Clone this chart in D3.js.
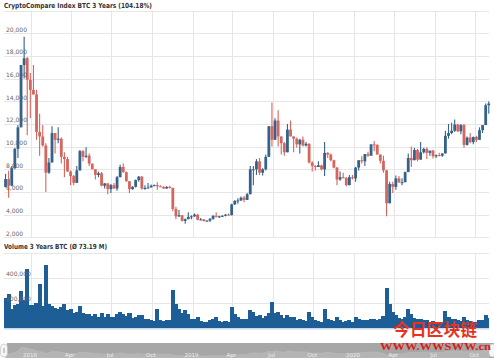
<!DOCTYPE html>
<html><head><meta charset="utf-8">
<script src="https://cdn.jsdelivr.net/npm/d3@7/dist/d3.min.js"></script>
<style>html,body{margin:0;padding:0;background:#fff}svg{display:block}</style>
</head><body><svg id="c" width="494" height="358"></svg>
<script>
// Weekly candles, week starting dates from 2017-11-01
const startDate = new Date(2017, 10, 1);
const endDate = new Date(2020, 10, 1);
const opens = [6440,7140,6560,8100,9800,11700,17200,17800,15900,15000,
14600,11300,10900,10100,7700,8600,11200,10600,10700,9100,
8900,7800,7400,6800,7900,9600,9100,9200,8500,8000,
7500,7650,6550,6750,6250,6600,6300,7300,8200,7750,
6950,6250,6450,7050,7350,6300,6350,6400,6550,6600,
6500,6450,6300,6450,6350,4500,3850,3950,3450,3600,
3800,3850,4000,3550,3580,3430,3470,3630,3900,3800,
3850,3900,4000,3950,4900,5200,5250,5500,5300,5800,
8000,8000,8700,7700,8000,9100,11800,10600,12300,10900,
10300,9500,11500,10900,10700,10200,10600,10100,10250,8600,
8300,8200,8350,8000,9450,9300,8800,8150,7100,7300,
7250,6600,7300,7200,8150,8800,8700,9350,9200,10200,
10150,9300,8750,7900,5000,6700,6450,7200,6850,6860,
7750,9000,8800,9700,8850,9500,9800,9450,9650,9150,
9250,9200,9400,10950,11200,11400,11950,11350,11900,10150,
10800,10400,10850,10600,11450,11900,13650];
const highs = [7600,7880,8300,9900,11900,17200,19700,17900,16500,17200,
15000,12900,11900,10300,9000,11800,11200,11700,10800,9500,
9100,7900,7500,8300,9700,9700,9950,9400,8500,8000,
7800,7750,6800,6800,6700,6800,7400,8400,8500,7800,
6950,6500,7100,7400,7400,6600,6800,6650,6650,6850,
6600,6500,6500,6550,6400,4700,4400,3950,3650,4200,
3950,4100,4050,3700,3600,3500,3700,3950,4200,3900,
3950,4050,4100,4950,5300,5450,5600,5650,5900,8300,
8300,8900,9000,8100,9300,11800,13900,12500,13200,10900,
10400,12000,12300,10900,10800,10700,10900,10400,10300,8700,
8350,8700,8400,10400,9500,9400,8850,8200,7800,7700,
7300,7500,7500,8200,8800,9150,9350,9550,10200,10500,
10200,9300,9200,7950,6900,6900,7450,7400,7200,7800,
9400,10000,9900,9800,10400,9900,9950,9600,9700,9300,
9450,9400,11400,12000,12100,12400,12000,12000,12000,10900,
11200,10900,10950,11700,11900,13800,14000];
const lows = [6400,5500,6500,8000,9000,11700,16000,11000,12500,14600,
10600,9200,10000,6000,7600,8600,9400,10300,8500,7300,
7800,6600,6600,6800,7900,8700,9000,8300,8000,7100,
7300,6500,6300,5800,5900,6300,6100,7300,7700,6900,
5900,6200,6400,6900,6200,6200,6300,6400,6500,6200,
6450,6300,6300,6300,4300,3600,3800,3400,3200,3600,
3600,3800,3500,3500,3400,3400,3350,3550,3750,3700,
3800,3850,3950,3950,4850,4950,5200,5100,5300,5800,
6600,7500,7500,7450,7900,9100,10000,10600,10000,9300,
9200,9500,10900,9500,9900,9400,10000,10000,8500,7800,
7900,8200,7900,7400,9000,8700,8100,6600,7000,7200,
6500,6600,7100,6900,7900,8500,8300,9100,9200,9600,
9300,8500,7700,3850,5000,5900,6200,6800,6600,6850,
7750,8200,8800,8700,8850,9400,8900,9200,8950,9000,
9150,9100,9400,10700,11100,11300,11300,11100,9900,10100,
10300,10200,10400,10600,11200,11900,12900];
const closes = [7140,6560,8100,9800,11700,17200,17800,15900,15000,14600,
11300,10900,10100,7700,8600,11200,10600,10700,9100,8900,
7800,7400,6800,7900,9600,9100,9200,8500,8000,7500,
7650,6550,6750,6250,6600,6300,7300,8200,7750,6950,
6250,6450,7050,7350,6300,6350,6400,6550,6600,6500,
6450,6300,6450,6350,4500,3850,3950,3450,3600,3800,
3850,4000,3550,3580,3430,3470,3630,3900,3800,3850,
3900,4000,3950,4900,5200,5250,5500,5300,5800,8000,
8000,8700,7700,8000,9100,11800,10600,12300,10900,10300,
9500,11500,10900,10700,10200,10600,10100,10250,8600,8300,
8200,8350,8000,9450,9300,8800,8150,7100,7300,7250,
6600,7300,7200,8150,8800,8700,9350,9200,10200,10150,
9300,8750,7900,5000,6700,6450,7200,6850,6860,7750,
9000,8800,9700,8850,9500,9800,9450,9650,9150,9250,
9200,9400,10950,11200,11400,11950,11350,11900,10150,10800,
10400,10850,10600,11450,11900,13650,13800];
// Weekly volume (thousands BTC)
const volumes = [240,267,150,187,190,293,220,467,180,185,
200,347,173,499,190,175,160,150,165,190,
140,150,120,130,175,120,110,115,95,110,
90,120,85,110,90,85,110,130,115,95,
120,80,90,100,105,70,75,65,55,150,
60,55,60,65,300,190,150,120,140,110,
75,70,85,55,50,50,65,70,90,55,
50,55,50,165,110,85,70,75,75,140,
130,95,100,80,95,120,208,120,130,100,
80,105,90,85,65,75,60,55,125,90,
60,55,50,155,70,60,55,85,60,50,
55,60,45,86,75,60,65,60,70,75,
60,75,95,320,190,130,100,80,75,85,
155,110,80,70,75,60,65,50,55,45,
40,45,133,90,70,75,60,55,85,60,
55,50,50,60,65,107,80];
const priceTicks = [2000,4000,6000,8000,10000,12000,14000,16000,18000,20000];
const volumeTicks = [200000,400000];
const titleText = "CryptoCompare Index BTC 3 Years (104.18%)";
const volTitleText = "Volume 3 Years BTC (\u00D8 73.19 M)";
const navLabels = ["2018","Apr","Jul","Oct","2019","Apr","Jul","Oct","2020","Apr","Jul","Oct"];

const n = closes.length;
const data = d3.range(n).map(i => ({
  date: d3.timeDay.offset(startDate, i*7),
  next: d3.timeDay.offset(startDate, i*7 + 7),
  mid: d3.timeHour.offset(d3.timeDay.offset(startDate, i*7), 84),
  o: opens[i], h: highs[i], l: lows[i], c: closes[i], v: (volumes[i]||0)*1000
}));

const svg = d3.select("#c");
const font = "DejaVu Sans, Verdana, sans-serif";
const L = 4, R = 489;
const x = d3.scaleTime().domain([startDate, endDate]).range([L, R]);
const yP = d3.scaleLinear().domain([2000, 22000]).range([237.3, 10.6]);
const yV = d3.scaleLinear().domain([0, 600000]).range([328, 252.7]);
const monthTicks = x.ticks(d3.timeMonth.every(3));

// grids
const grid = svg.append("g").attr("stroke", "#e6e6e6").attr("stroke-width", 1);
grid.selectAll(".hp").data(priceTicks.concat([22000])).join("line")
  .attr("x1", L).attr("x2", R)
  .attr("y1", d => Math.round(yP(d)) + 0.5).attr("y2", d => Math.round(yP(d)) + 0.5);
grid.selectAll(".hv").data(volumeTicks.concat([600000])).join("line")
  .attr("x1", L).attr("x2", R)
  .attr("y1", d => Math.round(yV(d)) + 0.5).attr("y2", d => Math.round(yV(d)) + 0.5);
grid.selectAll(".vp").data(monthTicks).join("line")
  .attr("x1", d => Math.round(x(d)) + 0.5).attr("x2", d => Math.round(x(d)) + 0.5)
  .attr("y1", yP(22000)).attr("y2", yP(2000));
grid.selectAll(".vv").data(monthTicks).join("line")
  .attr("x1", d => Math.round(x(d)) + 0.5).attr("x2", d => Math.round(x(d)) + 0.5)
  .attr("y1", yV(600000)).attr("y2", yV(0));

// titles
svg.append("text").attr("x", 4).attr("y", 7.5).attr("font-family", font)
  .attr("font-weight", "bold").attr("font-size", 7).attr("fill", "#333")
  .attr("textLength", 148).attr("lengthAdjust", "spacingAndGlyphs").text(titleText);
svg.append("text").attr("x", 4).attr("y", 249).attr("font-family", font)
  .attr("font-weight", "bold").attr("font-size", 7).attr("fill", "#333")
  .attr("textLength", 103).attr("lengthAdjust", "spacingAndGlyphs").text(volTitleText);

// volume bars (contiguous)
svg.append("g").attr("shape-rendering", "crispEdges").selectAll("rect").data(data).join("rect")
  .attr("x", d => Math.floor(x(d.date)))
  .attr("width", d => Math.min(R, Math.ceil(x(d.next))) - Math.floor(x(d.date)))
  .attr("y", d => yV(d.v)).attr("height", d => yV(0) - yV(d.v))
  .attr("fill", "#1d5e97");
svg.append("line").attr("x1", L).attr("x2", R).attr("y1", 328.8).attr("y2", 328.8)
  .attr("stroke", "#c9d9e8").attr("stroke-width", 1.4);

// candles
const up = "#35628a", down = "#d6655d";
const cg = svg.append("g");
cg.selectAll("line").data(data).join("line")
  .attr("x1", d => x(d.mid)).attr("x2", d => x(d.mid))
  .attr("y1", d => yP(d.h)).attr("y2", d => yP(d.l))
  .attr("stroke", d => d.c >= d.o ? up : down).attr("stroke-width", 1.1);
cg.selectAll("rect").data(data).join("rect")
  .attr("x", d => x(d.mid) - 1.4).attr("width", 2.8)
  .attr("y", d => yP(Math.max(d.o, d.c)))
  .attr("height", d => Math.max(1, Math.abs(yP(d.o) - yP(d.c))))
  .attr("fill", d => d.c >= d.o ? up : down);

// axis labels
const lab = svg.append("g").attr("font-family", font).attr("font-size", 6).attr("fill", "#666");
lab.selectAll(".pl").data(priceTicks).join("text")
  .attr("x", 6).attr("y", d => yP(d) - 1.5).text(d => d3.format(",")(d));
lab.selectAll(".vl").data(volumeTicks).join("text")
  .attr("x", 6).attr("y", d => yV(d) - 1.5).text(d => d3.format(",")(d));

// navigator
const nTop = 343, nBot = 358;
svg.append("rect").attr("x", 7).attr("y", nTop).attr("width", 494 - 7).attr("height", nBot - nTop).attr("fill", "#a7a7a7");
const yN = d3.scaleLinear().domain([0, 22000]).range([nBot, nTop + 2]);
svg.append("path").datum(data)
  .attr("d", d3.area().x(d => x(d.mid)).y0(nBot).y1(d => yN(d.c)))
  .attr("fill", "#b4b4b4").attr("stroke", "#bdbdbd").attr("stroke-width", 0.6);
svg.append("g").attr("font-family", font).attr("font-size", 5.5).attr("fill", "#eeeeee")
  .attr("text-anchor", "middle")
  .selectAll("text").data(monthTicks).join("text")
  .attr("x", d => x(d) - 1).attr("y", 357).text((d, i) => navLabels[i]);
svg.append("rect").attr("x", 0.5).attr("y", 344).attr("width", 7).attr("height", 13).attr("rx", 3.5)
  .attr("fill", "#f6f6f6").attr("stroke", "#bbb").attr("stroke-width", 0.6);
svg.append("line").attr("x1", 4).attr("x2", 4).attr("y1", 348).attr("y2", 353).attr("stroke", "#888").attr("stroke-width", 0.8);
svg.append("rect").attr("x", 489).attr("y", 344).attr("width", 7).attr("height", 13).attr("rx", 3.5)
  .attr("fill", "#f6f6f6").attr("stroke", "#bbb").attr("stroke-width", 0.6);

// watermark
svg.append("text").attr("x", 393).attr("y", 335.5).attr("font-family", "Noto Sans CJK SC")
  .attr("font-weight", "bold").attr("font-size", 17).attr("fill", "#e8321e")
  .attr("textLength", 84).attr("lengthAdjust", "spacingAndGlyphs").text("今日区块链");
svg.append("text").attr("x", 380).attr("y", 349.5).attr("font-family", "Liberation Serif, serif")
  .attr("font-weight", "bold").attr("font-size", 10.5).attr("fill", "#d81e16")
  .attr("textLength", 111).attr("lengthAdjust", "spacingAndGlyphs").text("WWW.WWSWW.cn");
</script></body></html>
